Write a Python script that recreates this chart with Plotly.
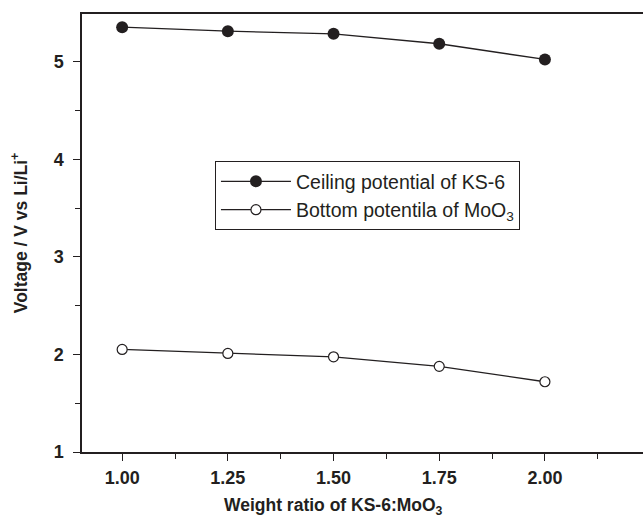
import plotly.graph_objects as go

ratios = [1.00, 1.25, 1.50, 1.75, 2.00]
ceiling_ks6 = [5.355, 5.314, 5.287, 5.185, 5.024]
bottom_moo3 = [2.051, 2.010, 1.976, 1.878, 1.720]
x_ticks = [1.00, 1.25, 1.50, 1.75, 2.00]
x_tick_labels = ["1.00", "1.25", "1.50", "1.75", "2.00"]
y_ticks = [1, 2, 3, 4, 5]
x_title = "<b>Weight ratio of KS-6:MoO<sub>3</sub></b>"
y_title = "<b>Voltage / V vs Li/Li<sup>+</sup></b>"

FONT = "Liberation Sans, Arial, sans-serif"
INK = "#231f20"

fig = go.Figure()
fig.add_trace(go.Scatter(
    x=ratios, y=ceiling_ks6, mode="lines+markers",
    name="Ceiling potential of KS-6",
    line=dict(color=INK, width=1.3),
    marker=dict(symbol="circle", size=12, color=INK),
))
fig.add_trace(go.Scatter(
    x=ratios, y=bottom_moo3, mode="lines+markers",
    name="Bottom potentila of MoO<sub>3</sub>",
    line=dict(color=INK, width=1.3),
    marker=dict(symbol="circle", size=10, color="white",
                line=dict(color=INK, width=1.2)),
))

fig.add_annotation(
    text=x_title, xref="x", yref="paper", x=1.5, y=0, yshift=-41,
    xanchor="center", yanchor="top", showarrow=False,
    font=dict(family=FONT, size=17.5, color=INK),
)

fig.update_layout(
    width=643, height=531,
    margin=dict(l=82, r=0, t=14, b=79),
    paper_bgcolor="white", plot_bgcolor="white",
    font=dict(family=FONT, color=INK),
    showlegend=True,
    legend=dict(
        x=0.237, y=0.664, xanchor="left", yanchor="top",
        bgcolor="white", bordercolor=INK, borderwidth=1,
        font=dict(family=FONT, size=19.5, color=INK),
        itemwidth=70, tracegroupgap=0,
    ),
    xaxis=dict(
        range=[0.905, 2.232],
        tickvals=x_ticks, ticktext=x_tick_labels,
        ticks="outside", ticklen=7, tickwidth=1.2, tickcolor=INK,
        ticklabelstandoff=2,
        minor=dict(dtick=0.125, tick0=1.0, ticks="outside", ticklen=5,
                   tickwidth=1.2, tickcolor=INK),
        showline=True, linecolor=INK, linewidth=1.5, mirror=True,
        showgrid=False, zeroline=False,
        tickfont=dict(family=FONT, size=18, color=INK, weight="bold"),
    ),
    yaxis=dict(
        range=[1, 5.49],
        tickvals=y_ticks,
        ticks="outside", ticklen=7, tickwidth=1.2, tickcolor=INK,
        ticklabelstandoff=6,
        minor=dict(dtick=0.5, tick0=1.0, ticks="outside", ticklen=5,
                   tickwidth=1.2, tickcolor=INK),
        showline=True, linecolor=INK, linewidth=1.5,
        showgrid=False, zeroline=False,
        tickfont=dict(family=FONT, size=18, color=INK, weight="bold"),
        title=dict(text=y_title,
                   font=dict(family=FONT, size=17.5, color=INK), standoff=22),
    ),
)

fig.write_html("out.html")
